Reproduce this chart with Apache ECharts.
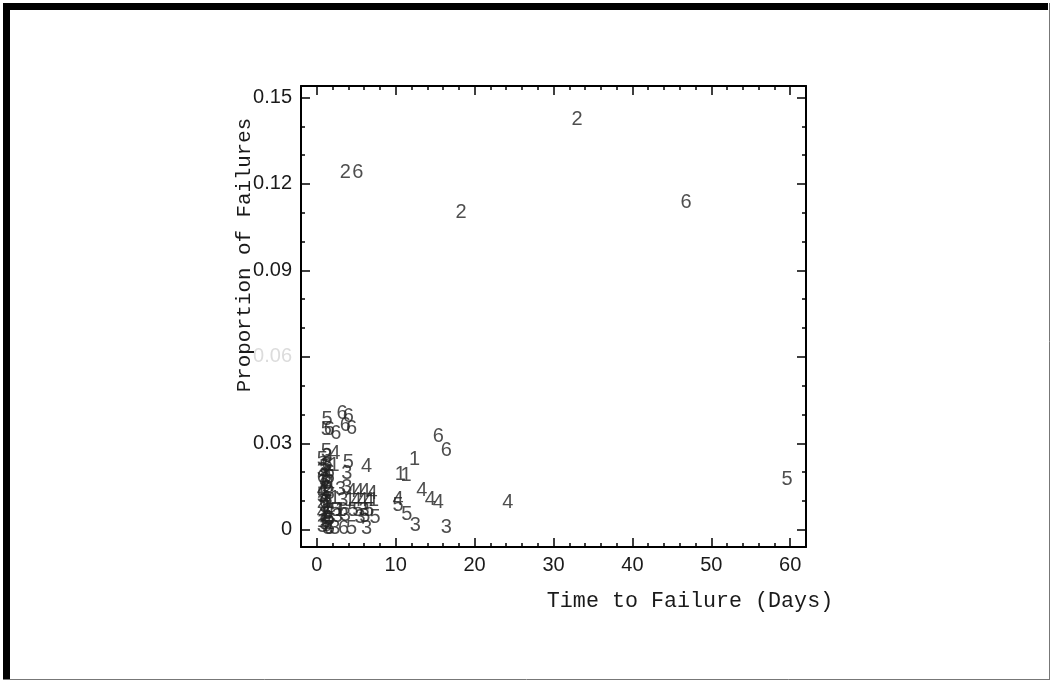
<!DOCTYPE html>
<html>
<head>
<meta charset="utf-8">
<script src="https://cdn.jsdelivr.net/npm/echarts@6/dist/echarts.min.js"></script>
<style>
html,body{margin:0;padding:0;background:#fff;}
#c{width:1051px;height:681px;}
</style>
</head>
<body>
<div id="c"></div>
<script>
// ---- data: [time to failure (days), proportion of failures] per group ----
const group1 = [[12.4,0.0243],[10.6,0.019],[11.3,0.0187],[2.2,0.0224],[2.3,0.0108],[4.2,0.0102],[7.2,0.0102],[1.0,0.014],[1.6,0.0095],[1.0,0.005],[3.0,0.0067],[0.7,0.0165],[1.3,0.0075],[0.7,0.003]];
const group2 = [[33.0,0.1425],[3.6,0.124],[18.3,0.1102],[1.0,0.0185],[1.6,0.002],[1.3,0.0135],[0.7,0.0095]];
const group3 = [[12.5,0.0014],[16.4,0.0009],[6.3,0.0004],[1.2,0.0224],[3.8,0.0195],[3.8,0.0148],[3.0,0.0139],[3.3,0.0102],[5.5,0.0042],[1.4,0.0004],[2.3,0.0004],[6.0,0.0067],[1.0,0.017],[1.6,0.0125],[1.0,0.008],[2.6,0.0045],[3.6,0.005],[1.3,0.0255],[0.7,0.0205],[1.3,0.0105],[0.7,0.0012]];
const group4 = [[24.2,0.0096],[13.3,0.0135],[14.4,0.0104],[15.4,0.0095],[10.3,0.0104],[2.3,0.0266],[6.3,0.0218],[4.4,0.0131],[5.3,0.0133],[6.1,0.0131],[7.0,0.0125],[5.0,0.0102],[5.8,0.0102],[6.6,0.0102],[1.6,0.0155],[1.0,0.011],[1.6,0.0065],[1.3,0.0195],[0.7,0.0135],[1.3,0.004],[0.7,0.006]];
const group5 = [[59.6,0.0175],[1.3,0.0382],[1.2,0.0347],[1.2,0.027],[4.0,0.0235],[11.4,0.0052],[10.3,0.0083],[7.4,0.0044],[6.1,0.0047],[2.4,0.0067],[4.6,0.0067],[5.2,0.0067],[6.6,0.0067],[4.4,0.0004],[1.0,0.0215],[1.6,0.018],[1.0,0.0125],[1.6,0.0035],[1.0,0.002],[1.3,0.016],[0.7,0.0245],[1.3,0.0015],[0.7,0.0115]];
const group6 = [[5.2,0.124],[46.8,0.1137],[15.4,0.0324],[16.4,0.0275],[3.2,0.0405],[4.0,0.0394],[3.6,0.0362],[4.4,0.0351],[1.6,0.0347],[2.4,0.0334],[3.4,0.0004],[3.3,0.0067],[1.0,0.0095],[1.6,0.0005],[1.6,0.02],[1.3,0.0225],[0.7,0.018],[1.3,0.0055]];
const groupNames = ['1','2','3','4','5','6'];
const groups = [group1, group2, group3, group4, group5, group6];

const xMajorTicks = [0,10,20,30,40,50,60];
const xMinorTicks = [2,4,6,8,12,14,16,18,22,24,26,28,32,34,36,38,42,44,46,48,52,54,56,58];
const yMajorTicks = [0,0.03,0.06,0.09,0.12,0.15];
const yMinorTicks = [0.01,0.02,0.04,0.05,0.07,0.08,0.1,0.11,0.13,0.14];
const yTickLabels = ['0','0.03','0.06','0.09','0.12','0.15'];

const xTitle = 'Time to Failure (Days)';
const yTitle = 'Proportion of Failures';

const X_MIN = -2, X_MAX = 62, Y_MIN = -0.006, Y_MAX = 0.154;

function mkAxis(kind, position, ticks, len, showLine, labels) {
  const ax = {
    type: 'value', position: position,
    min: kind === 'x' ? X_MIN : Y_MIN,
    max: kind === 'x' ? X_MAX : Y_MAX,
    splitLine: {show: false},
    axisLine: {show: showLine, onZero: false, lineStyle: {color: '#000', width: 2}},
    axisTick: {show: true, inside: true, length: len, customValues: ticks, lineStyle: {color: '#000', width: 1.5}},
    axisLabel: {show: false}
  };
  if (labels) {
    ax.axisLabel = {
      show: true, customValues: ticks, color: '#1a1a1a', fontSize: 20,
      fontFamily: 'Liberation Sans', margin: kind === 'x' ? 8 : 9,
      formatter: kind === 'x' ? (v => String(Math.round(v))) : (v => {
        const i = yMajorTicks.findIndex(t => Math.abs(t - v) < 1e-9);
        const s = i >= 0 ? yTickLabels[i] : String(v);
        return Math.abs(v - 0.06) < 1e-9 ? '{f|' + s + '}' : s;
      }),
      rich: {f: {color: '#dcdcdc', fontSize: 20, fontFamily: 'Liberation Sans'}}
    };
  }
  return ax;
}

const chart = echarts.init(document.getElementById('c'), null, {renderer: 'canvas'});
chart.setOption({
  animation: false,
  backgroundColor: '#fff',
  grid: {left: 301, top: 86, width: 505, height: 461, containLabel: false},
  xAxis: [
    mkAxis('x', 'bottom', xMajorTicks, 9, true, true),
    mkAxis('x', 'bottom', xMinorTicks, 4, false, false),
    mkAxis('x', 'top', xMajorTicks, 9, true, false),
    mkAxis('x', 'top', xMinorTicks, 4, false, false)
  ],
  yAxis: [
    mkAxis('y', 'left', yMajorTicks, 9, true, true),
    mkAxis('y', 'left', yMinorTicks, 4, false, false),
    mkAxis('y', 'right', yMajorTicks, 9, true, false),
    mkAxis('y', 'right', yMinorTicks, 4, false, false)
  ],
  series: groups.map((g, i) => ({
    type: 'scatter', name: groupNames[i], data: g,
    xAxisIndex: 0, yAxisIndex: 0,
    symbol: 'circle', symbolSize: 1,
    itemStyle: {color: 'transparent'},
    silent: true,
    emphasis: {disabled: true},
    label: {show: true, position: 'inside', formatter: groupNames[i],
      fontSize: 20, color: '#222', fontFamily: 'Liberation Sans'}
  })),
  graphic: [
    {type: 'rect', shape: {x: 3, y: 3, width: 7, height: 676}, style: {fill: '#000'}},
    {type: 'rect', shape: {x: 3, y: 3, width: 1045, height: 7}, style: {fill: '#000'}},
    {type: 'line', shape: {x1: 1049.5, y1: 3, x2: 1049.5, y2: 680}, style: {stroke: '#777', lineWidth: 1}},
    {type: 'line', shape: {x1: 3, y1: 679.5, x2: 1050, y2: 679.5}, style: {stroke: '#777', lineWidth: 1}},
    {type: 'text', x: 690, y: 601, style: {text: xTitle, font: '21.7px "Liberation Mono"', fill: '#1a1a1a', align: 'center', verticalAlign: 'middle'}},
    {type: 'text', x: 244, y: 255, rotation: Math.PI / 2, style: {text: yTitle, font: '20.8px "Liberation Mono"', fill: '#1a1a1a', align: 'center', verticalAlign: 'middle'}}
  ]
});
</script>
</body>
</html>
